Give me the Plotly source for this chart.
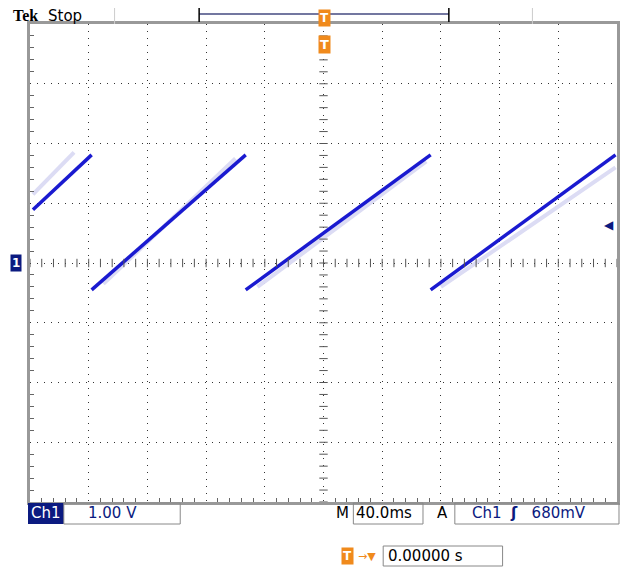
import numpy as np
import plotly.graph_objects as go

# ramp segments (time ms, volts)
seg_t = [[-198, -158], [-158, -53], [-53, 73], [73, 199]]
seg_v = [[0.89, 1.81], [-0.45, 1.81], [-0.45, 1.81], [-0.45, 1.81]]
# faint persistence traces
ghost_t = [[-198, -170], [-150, -60], [-45, 70], [80, 199]]
ghost_v = [[1.15, 1.85], [-0.35, 1.75], [-0.40, 1.70], [-0.40, 1.60]]

BLUE = '#1a1ad0'
NAVY = '#0b1a80'
ORANGE = '#f08a1c'
OFF = 8  # page body margin
W, H = 628 - OFF, 574 - OFF
L, R, T, B = 30, 620, 24, 502  # plot area in window px


def px(x):
    return (x - L) / (R - L)


def py(y):
    return (B - y) / (B - T)


fig = go.Figure()

for t, v in zip(ghost_t, ghost_v):
    fig.add_trace(go.Scatter(x=t, y=v, mode='lines', line=dict(color='#dcdcf4', width=4),
                             hoverinfo='skip', showlegend=False))
for t, v in zip(seg_t, seg_v):
    fig.add_trace(go.Scatter(x=t, y=v, mode='lines', line=dict(color=BLUE, width=3.5),
                             showlegend=False))

# minor ticks on centre crosshair
mx = np.arange(-200, 201, 8)
my = np.arange(-4, 4.01, 0.2)
fig.add_trace(go.Scatter(x=mx, y=[0] * len(mx), mode='markers', showlegend=False, hoverinfo='skip',
                         marker=dict(symbol='line-ns', size=6, line=dict(color='#555', width=1))))
fig.add_trace(go.Scatter(x=[0] * len(my), y=my, mode='markers', showlegend=False, hoverinfo='skip',
                         marker=dict(symbol='line-ew', size=6, line=dict(color='#555', width=1))))

ax = dict(showgrid=True, griddash='1px,6px', gridcolor='#333', gridwidth=1, zeroline=False,
          showticklabels=False, ticks='', showline=True, linecolor='#999', linewidth=3, mirror=True,
          minor=dict(ticks='inside', ticklen=4, tickcolor='#666', showgrid=False))
fig.update_xaxes(range=[-200, 200], dtick=40, minor_dtick=8, **ax)
fig.update_yaxes(range=[-4, 4], dtick=1, minor_dtick=0.2, **ax)

fig.update_layout(width=W, height=H,
                  margin=dict(l=L - OFF, r=W - (R - OFF), t=T - OFF, b=H - (B - OFF)),
                  plot_bgcolor='white', paper_bgcolor='white',
                  font=dict(family='DejaVu Sans', color='black'))


def box(x0, x1, y0, y1, **kw):
    d = dict(type='rect', xref='paper', yref='paper', x0=px(x0), x1=px(x1), y0=py(y1), y1=py(y0))
    d.update(kw)
    return d


def hline(x0, x1, y, color, w=1.5):
    return dict(type='line', xref='paper', yref='paper', x0=px(x0), x1=px(x1), y0=py(y), y1=py(y),
                line=dict(color=color, width=w))


def vline(x, y0, y1, color, w=1.5):
    return dict(type='line', xref='paper', yref='paper', x0=px(x), x1=px(x), y0=py(y1), y1=py(y0),
                line=dict(color=color, width=w))


shapes = [
    hline(200, 451, 14, '#444a80'),
    vline(200, 6, 22, 'black'), vline(451, 6, 22, 'black'),
    vline(115, 6, 24, '#ccc', 1), vline(535, 6, 24, '#ccc', 1),
    box(28, 64, 503, 524, fillcolor=NAVY, line=dict(width=0)),
    box(64, 181, 503, 524, line=dict(color='#888', width=1)),
    box(355, 425, 503, 524, line=dict(color='#888', width=1)),
    box(457, 622, 503, 524, line=dict(color='#888', width=1)),
    box(385, 505, 546, 566, line=dict(color='#888', width=1)),
]
fig.update_layout(shapes=shapes)


def txt(x, y, s, size=15, color='black', anchor='left', **kw):
    d = dict(x=px(x), y=py(y), text=s, xref='paper', yref='paper', showarrow=False,
             xanchor=anchor, yanchor='middle', font=dict(size=size, color=color))
    d.update(kw)
    return d


ann = [
    txt(11, 16, '<b>Tek</b>', font=dict(size=16, family='Liberation Serif', color='black')),
    txt(46, 16, 'Stop', 15),
    txt(29, 513, 'Ch1', 15, 'white'),
    txt(86, 513, '1.00 V', 15, NAVY),
    txt(336, 513, 'M', 15),
    txt(356, 513, '40.0ms', 15),
    txt(437, 513, 'A', 15),
    txt(472, 513, 'Ch1  <b>ʃ</b>   680mV', 15, NAVY),
    txt(388, 556, '0.00000 s', 15),
    txt(343, 556, '<b>T</b>', 12, 'white', bgcolor=ORANGE, borderpad=1),
    txt(358, 556, '→▼', 11, ORANGE),
    txt(326, 18, '<b>T</b>', 12, 'white', 'center', bgcolor=ORANGE, borderpad=1),
    txt(326, 45, '<b>T</b>', 13, 'white', 'center', bgcolor=ORANGE, borderpad=1),
    txt(16, 263, '<b>1</b>', 12, 'white', 'center', bgcolor=NAVY, borderpad=1),
    txt(612, 225, '◀', 12, NAVY, 'center'),
]
fig.update_layout(annotations=ann)

fig.write_html("out.html")
